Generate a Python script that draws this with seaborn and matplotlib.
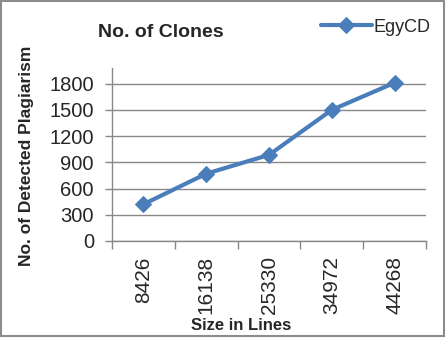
import matplotlib
matplotlib.use("Agg")
import matplotlib.pyplot as plt
import seaborn as sns
import pandas as pd
import numpy as np
from matplotlib.patches import Rectangle

sizes = ["8426", "16138", "25330", "34972", "44268"]
clones = [420, 770, 985, 1500, 1810]
series_name = "EgyCD"
yticks = [0, 300, 600, 900, 1200, 1500, 1800]

sns.set_style("white")
plt.rcParams['font.family'] = ['Liberation Sans', 'DejaVu Sans']

df = pd.DataFrame({"pos": np.arange(len(sizes)), "clones": clones, "series": series_name})

fig = plt.figure(figsize=(4.47, 3.38), dpi=100)
ax = fig.add_axes([0.2506, 0.287, 0.7024, 0.512])
sns.lineplot(data=df, x="pos", y="clones", hue="series", palette=["#4A7EBB"],
             marker="D", markersize=8.5, linewidth=3, markeredgecolor="#4A7EBB",
             ax=ax)

ax.set_xlim(-0.5, len(sizes) - 0.5)
ax.set_ylim(0, 1980)
ax.set_yticks(yticks)
ax.set_yticklabels([str(v) for v in yticks], fontsize=14.5)
ax.set_xticks(np.arange(len(sizes)))
ax.set_xticklabels(sizes, rotation=90, fontsize=15)
ax.set_xticks(np.arange(len(sizes) + 1) - 0.5, minor=True)
ax.tick_params(axis='x', which='major', length=0, pad=11)
ax.tick_params(axis='x', which='minor', length=6, color="#888888", width=1, direction='out', bottom=True)
ax.tick_params(axis='y', length=5, color="#888888", width=1, direction='out', left=True, pad=8)
ax.yaxis.grid(True, color="#888888", linewidth=1)
ax.xaxis.grid(False)
for s in ["top", "right"]:
    ax.spines[s].set_visible(False)
for s in ["left", "bottom"]:
    ax.spines[s].set_color("#888888")
    ax.spines[s].set_linewidth(1)

ax.set_xlabel("Size in Lines", fontsize=12, fontweight="bold")
ax.set_ylabel("No. of Detected Plagiarism", fontsize=12.5, fontweight="bold")
ax.xaxis.set_label_coords(0.41, -0.445)
ax.yaxis.set_label_coords(-0.25, 0.49)

fig.text(0.36, 0.905, "No. of Clones", fontsize=14, fontweight="bold", ha="center", va="center")
leg = ax.legend(loc="center", bbox_to_anchor=(0.84, 1.235), frameon=False, fontsize=13,
                handlelength=2.8, handletextpad=0.1, borderaxespad=0)

fig.patches.append(Rectangle((0.003, 0.006), 0.99, 0.99, transform=fig.transFigure,
                             fill=False, edgecolor="#8C8C8C", linewidth=1.5))

fig.savefig("out.png", dpi=100)
